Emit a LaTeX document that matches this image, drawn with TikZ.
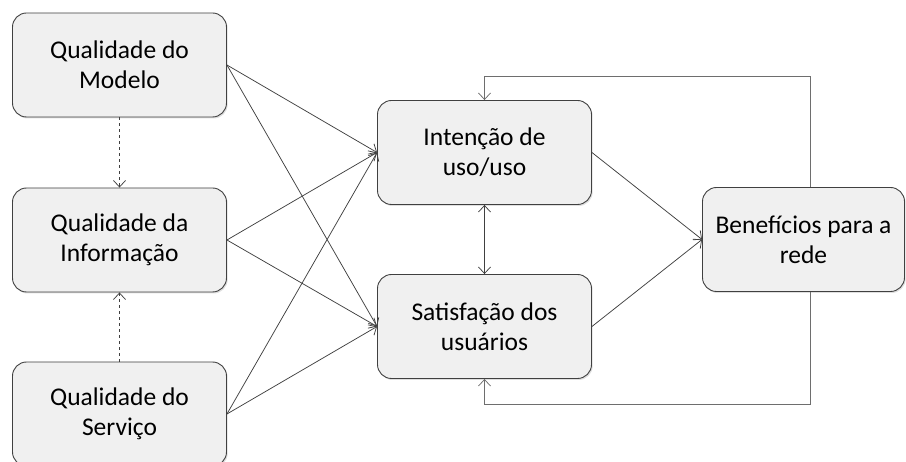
\documentclass[tikz,border=0pt]{standalone}
\usepackage{fontspec}
\setmainfont{Carlito}
\usepackage{tikz}
\usetikzlibrary{arrows.meta}
\usetikzlibrary{shadows}
\definecolor{boxfill}{HTML}{F0F0F0}
\definecolor{boxline}{HTML}{404040}
\definecolor{loopline}{HTML}{6E6E6E}
\tikzset{
  box/.style={draw=boxline, fill=boxfill, rounded corners=14pt, line width=0.9pt,
    minimum width=214pt, minimum height=104pt, inner sep=0pt, align=center,
    font=\fontsize{25.5}{30}\selectfont,
    drop shadow={opacity=0.25, shadow xshift=1.2pt, shadow yshift=-1.5pt}},
  barb/.tip={Straight Barb[length=6.5pt,width=12pt]},
  arr/.style={-barb, boxline, line width=0.75pt},
  arrs/.style={barb-barb, boxline, line width=0.75pt},
}

\begin{document}
\begin{tikzpicture}[x=1pt,y=-1pt]
      \useasboundingbox (0,0) rectangle (906,462);
      % quality boxes
      \node[box] (modelo) at (119.5,65) {Qualidade do\\Modelo};
      \node[box] (info) at (119.5,240) {Qualidade da\\Informação};
      \node[box] (servico) at (119.5,414) {Qualidade do\\Serviço};
      % use and satisfaction
      \node[box] (uso) at (484.5,152.5) {Intenção de\\uso/uso};
      \node[box] (satisf) at (484.5,326.5) {Satisfação dos\\usuários};
      \node[box, minimum width=202pt] (benef) at (803.5,239.5) {Benefícios para a\\rede};

      \draw[arr, dashed] (modelo) -- (info);
      \draw[arr, dashed] (servico) -- (info);
      \foreach \s in {modelo,info,servico}{
        \draw[arr] (\s.east) -- (uso.west);
        \draw[arr] (\s.east) -- (satisf.west);
      }
      \draw[arrs] (uso) -- (satisf);
      \draw[arr] (uso.east) -- (benef.west);
      \draw[arr] (satisf.east) -- (benef.west);

      % feedback loop
      \coordinate (looptop) at (810,76);
      \coordinate (loopbot) at (810,404);
      \draw[arr, loopline] (benef.north -| looptop) -- (looptop) -| (uso.north);
      \draw[arr, loopline] (benef.south -| loopbot) -- (loopbot) -| (satisf.south);
    \end{tikzpicture}
\end{document}
